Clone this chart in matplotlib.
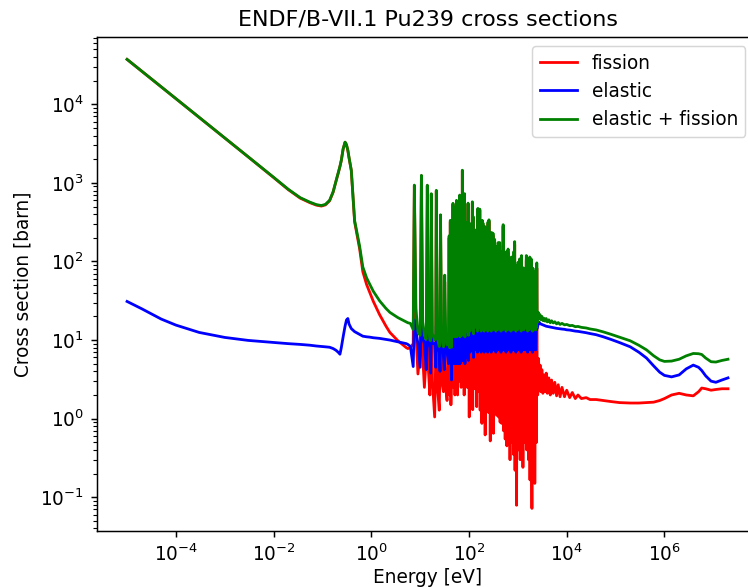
import numpy as np
import matplotlib
matplotlib.use("Agg")
import matplotlib.pyplot as plt

# ---------------- data ----------------
# thermal / low-energy smooth part
thermal_energy = [1e-5, 2e-5, 5e-5, 1e-4, 3e-4, 1e-3, 3e-3, 0.01, 0.02, 0.035,
                  0.055, 0.075, 0.095, 0.115, 0.14, 0.165, 0.19, 0.215, 0.228, 0.243,
                  0.265, 0.29, 0.31, 0.331, 0.35, 0.389, 0.42, 0.455, 0.52, 0.576,
                  0.67, 0.8, 0.92, 1.1, 1.48, 2.0, 2.4, 3.5, 5.2, 5.6]
thermal_fission = [37300, 26400, 16700, 11800, 6810, 3730, 2150, 1170, 820, 640,
                   561, 521, 507, 525, 592, 760, 1060, 1400, 1620, 1930,
                   2700, 3290, 3050, 2580, 2080, 1440, 700, 320, 205, 145,
                   74, 51, 41, 31, 21, 15, 12.5, 9.8, 8.0, 7.8]
thermal_elastic = [31, 25, 18.5, 15.5, 12.5, 10.8, 9.9, 9.3, 9.0, 8.8,
                   8.6, 8.4, 8.3, 8.2, 8.1, 7.8, 7.4, 6.9, 6.6, 8.0,
                   11, 15, 18, 18.8, 16, 14, 13.4, 12.8, 12.2, 11.8,
                   11.2, 11.0, 10.9, 10.7, 10.5, 10.2, 10.0, 9.5, 9.0, 8.8]

# resolved resonances, 6 - 100 eV
lowres_energy = [6.3, 7.2, 7.6, 8.2, 9.0, 10.0, 10.6, 11.3, 12.2, 13.3,
                 14.0, 14.8, 15.8, 16.4, 16.9, 17.8, 19.8, 20.8, 21.4, 22.6,
                 24.6, 25.5, 26.1, 27.5, 30.0, 31.2, 31.8, 33.3, 35.5, 38.0,
                 39.2, 40.2, 41.4, 42.6, 43.8, 44.6, 45.8, 47.0, 48.4, 49.4,
                 50.1, 51.5, 52.5, 53.4, 54.3, 55.4, 56.4, 57.4, 58.4, 59.4,
                 61.0, 62.5, 63.5, 64.4, 65.8, 67.5, 69.0, 70.5, 71.8, 73.0,
                 74.2, 75.2, 76.5, 78.0, 79.5, 81.0, 82.6, 84.0, 85.5, 87.0,
                 88.6, 90.5, 92.2, 94.0, 95.6, 97.5, 99.0]
lowres_fission = [8.0, 9.0, 920, 12, 3.7, 7, 1230, 6, 2.5, 6,
                  920, 4, 2.0, 6, 715, 3, 1.05, 6, 790, 2.5,
                  1.28, 5, 375, 3, 2.2, 6, 55, 2.5, 1.7, 5,
                  200, 2, 320, 1.5, 5, 250, 3, 535, 2.5, 6,
                  300, 2.0, 6, 480, 3.1, 585, 6, 250, 2.0, 150,
                  7, 260, 3, 685, 6, 120, 2.5, 200, 6, 1435,
                  3, 400, 7, 250, 2.0, 715, 6, 160, 3, 300,
                  7, 200, 2.5, 120, 540, 6, 140]
lowres_elastic = [8.3, 4.6, 18, 13, 9, 4.5, 20, 11, 9, 4.2,
                  16, 10, 8, 3.8, 14, 9, 9, 4.5, 15, 8,
                  7, 4.0, 18, 10, 6, 4.2, 12, 10, 7, 5,
                  12, 6, 14, 10, 3.1, 12, 9, 15, 10, 5,
                  13, 10, 5, 16, 10, 15, 5, 12, 11, 12,
                  5, 12, 11, 15, 5, 11, 11, 12, 5.5, 15,
                  11, 14, 5.5, 12, 11, 15, 5, 12, 11, 12,
                  6, 11, 11, 11, 13, 5.5, 11]

# resolved resonances, 100 eV - 2.5 keV
highres_energy = [101, 103, 105, 107.5, 109.5, 111.5, 113.5, 117, 119, 121,
                  123.5, 127, 130, 133, 136, 141, 143.5, 146, 149, 152,
                  155.5, 159, 162, 166, 169, 173, 176.5, 180, 183.5, 187,
                  190, 193, 197, 201, 205, 210, 214, 219, 223, 228,
                  232, 237, 241, 245, 250, 256, 261, 266, 272, 278,
                  284, 290, 296, 302, 306, 310, 316, 322, 328, 335,
                  341, 348, 355, 362, 370, 378, 386, 395, 402, 410,
                  418, 425, 433, 442, 451, 460, 465, 480, 490, 500,
                  510, 520, 530, 540, 550, 560, 572, 585, 595, 610,
                  620, 630, 642, 655, 667, 680, 690, 705, 720, 735,
                  750, 765, 782, 800, 815, 830, 845, 860, 875, 895,
                  912, 930, 940, 970, 990, 1010, 1030, 1050, 1070, 1090,
                  1115, 1140, 1165, 1190, 1215, 1240, 1270, 1300, 1330, 1360,
                  1390, 1420, 1450, 1490, 1510, 1550, 1580, 1620, 1650, 1690,
                  1720, 1750, 1770, 1810, 1840, 1870, 1940, 1970, 2000, 2040,
                  2080, 2120, 2160, 2200, 2220, 2270, 2320, 2370, 2400, 2440,
                  2480]
highres_fission = [1.05, 290, 6, 110, 2.0, 120, 7, 560, 1.3, 360,
                   6, 190, 2.4, 140, 7, 240, 1.42, 150, 6, 460,
                   2.2, 190, 7, 450, 1.28, 280, 6, 190, 0.87, 320,
                   6, 295, 1.5, 170, 6, 265, 0.62, 140, 7, 230,
                   2.1, 170, 6, 305, 1.2, 325, 6, 190, 0.52, 140,
                   6, 220, 1.0, 130, 6, 215, 0.65, 120, 7, 177,
                   1.3, 110, 6, 140, 1.1, 100, 6, 160, 1.05, 90,
                   7, 160, 0.9, 80, 6, 120, 0.87, 100, 6, 280,
                   0.7, 100, 7, 110, 0.55, 80, 6, 120, 0.45, 70,
                   6, 130, 0.6, 75, 7, 90, 0.3, 60, 6, 100,
                   0.5, 70, 6, 85, 0.35, 120, 7, 165, 0.22, 60,
                   6, 75, 0.079, 55, 6, 84, 0.4, 50, 7, 94,
                   0.3, 60, 6, 105, 0.6, 50, 0.24, 70, 6, 45,
                   0.5, 60, 7, 105, 0.4, 50, 6, 70, 0.3, 45,
                   6, 100, 0.166, 60, 7, 94, 0.072, 45, 6, 68,
                   0.6, 50, 6, 60, 0.15, 45, 6, 55, 0.5, 82,
                   5]
highres_elastic = [14, 15, 7, 13, 14, 14, 7.5, 15, 14, 15,
                   6, 14, 14, 13, 7.5, 14, 14, 13, 7, 14,
                   14, 13, 7.5, 14, 14, 14, 7, 13, 14, 14,
                   7.5, 14, 14, 13, 7, 14, 14, 13, 7.5, 14,
                   14, 13, 7, 14, 14, 14, 7.5, 13, 14, 13,
                   7, 14, 14, 13, 7.5, 14, 14, 13, 7.5, 14,
                   14, 13, 7, 14, 14, 13, 7.5, 14, 14, 13,
                   7.5, 14, 14, 13, 7, 14, 14, 13, 7.5, 14,
                   14, 13, 7.5, 14, 14, 13, 7, 14, 14, 13,
                   7.5, 14, 14, 13, 7.5, 14, 14, 13, 7, 14,
                   14, 13, 7.5, 14, 14, 14, 7.5, 14, 14, 13,
                   7, 14, 14, 13, 7.5, 14, 14, 13, 7.5, 14,
                   14, 13, 7, 14, 14, 13, 14, 13, 7.5, 13,
                   14, 13, 7.5, 14, 14, 13, 7, 14, 14, 13,
                   7.5, 14, 14, 13, 7.5, 14, 14, 13, 7, 14,
                   14, 13, 7.5, 14, 14, 13, 7.5, 14, 14, 14,
                   14]

# unresolved / fast region
fast_energy = [2550, 2650, 2750, 2850, 2950, 3100, 3250, 3400, 3600, 3800,
               4000, 4300, 4600, 4900, 5300, 5700, 6200, 6700, 7300, 8000,
               9000, 1e4, 1.15e4, 1.3e4, 1.5e4, 1.7e4, 2e4, 2.5e4, 3e4, 4e4,
               5.6e4, 8e4, 1.2e5, 2e5, 3e5, 4.3e5, 6e5, 8e5, 1e6, 1.4e6,
               2e6, 2.8e6, 3.9e6, 5e6, 5.8e6, 7e6, 9e6, 1.13e7, 1.5e7, 2e7]
fast_fission = [2.0, 5.8, 2.4, 4.8, 2.2, 4.2, 2.1, 3.6, 2.2, 3.8,
                2.1, 3.3, 2.0, 3.1, 2.1, 2.9, 1.95, 2.7, 1.9, 2.5,
                1.9, 2.3, 1.85, 2.15, 1.8, 2.0, 1.8, 1.85, 1.75, 1.75,
                1.7, 1.65, 1.6, 1.58, 1.58, 1.6, 1.62, 1.7, 1.8, 2.0,
                2.1, 2.0, 1.95, 2.2, 2.45, 2.4, 2.3, 2.35, 2.4, 2.4]
fast_elastic = [15, 16.5, 16.8, 16.2, 16, 15.8, 15.6, 15.4, 15.2, 15.0,
                14.9, 14.8, 14.6, 14.5, 14.4, 14.2, 14.1, 14.0, 13.9, 13.8,
                13.7, 13.5, 13.4, 13.2, 13.0, 12.9, 12.7, 12.4, 12.1, 11.7,
                11.0, 10.2, 9.3, 8.2, 7.0, 5.9, 4.7, 3.9, 3.55, 3.4,
                3.6, 4.3, 4.8, 4.5, 4.1, 3.5, 3.0, 2.9, 3.1, 3.3]

assert len(thermal_energy) == len(thermal_fission) == len(thermal_elastic)
assert len(lowres_energy) == len(lowres_fission) == len(lowres_elastic)
assert len(highres_energy) == len(highres_fission) == len(highres_elastic)
assert len(fast_energy) == len(fast_fission) == len(fast_elastic)

energy = np.array(thermal_energy + lowres_energy + highres_energy + fast_energy, dtype=float)
fission = np.array(thermal_fission + lowres_fission + highres_fission + fast_fission, dtype=float)
elastic = np.array(thermal_elastic + lowres_elastic + highres_elastic + fast_elastic, dtype=float)
total = elastic + fission

# ---------------- figure ----------------
S = 4.0 / 3.0  # scale of the reference rendering relative to 100 dpi defaults
fig = plt.figure(figsize=(7.48, 5.87), dpi=100)
ax = fig.add_axes([0.1297, 0.0954, 0.8837, 0.8416])

lw = 1.5 * S
ax.plot(energy, fission, color="red", lw=lw, label="fission")
ax.plot(energy, elastic, color="blue", lw=lw, label="elastic")
ax.plot(energy, total, color="green", lw=lw, label="elastic + fission")
ax.set_xscale("log")
ax.set_yscale("log")
ax.set_xlim(10 ** -5.615, 10 ** 7.916)
ax.set_ylim(10 ** -1.43, 10 ** 4.857)

ax.set_title("ENDF/B-VII.1 Pu239 cross sections", fontsize=12 * S, pad=6 * S)
ax.set_xlabel("Energy [eV]", fontsize=10 * S, labelpad=1.5)
ax.set_ylabel("Cross section [barn]", fontsize=10 * S, labelpad=4 * S)
ax.tick_params(which="major", labelsize=10 * S, length=3.5 * S, width=0.8 * S, pad=3.5 * S)
ax.tick_params(which="minor", length=2 * S, width=0.6 * S)
for sp in ax.spines.values():
    sp.set_linewidth(0.8 * S)

leg = ax.legend(loc="upper right", fontsize=10 * S, bbox_to_anchor=(0.995, 1.0))
leg.get_frame().set_linewidth(0.8 * S)

fig.savefig("out.png", dpi=100)
